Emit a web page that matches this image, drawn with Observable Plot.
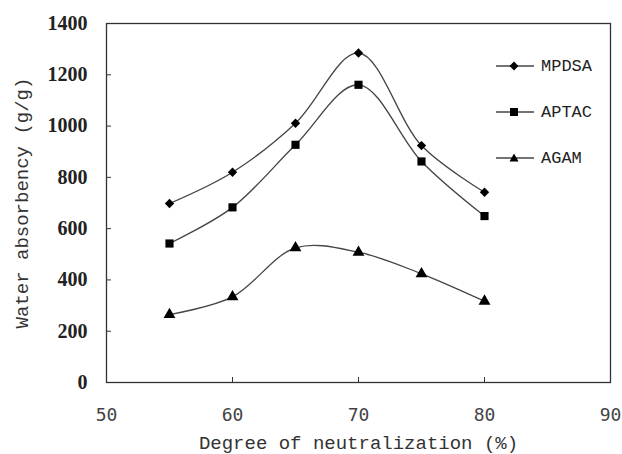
<!DOCTYPE html>
<html>
<head>
<meta charset="utf-8">
<script src="https://cdn.jsdelivr.net/npm/d3@7"></script>
<script src="https://cdn.jsdelivr.net/npm/@observablehq/plot@0.6"></script>
<style>
  html, body { margin: 0; padding: 0; background: #fff; }
  #wrap { position: relative; width: 622px; height: 454px; }
  #legend { position: absolute; left: 495px; top: 55px; font-family: "Liberation Mono", monospace; font-size: 17px; color: #222; }
  #legend .row { display: flex; align-items: center; height: 22px; margin-bottom: 24px; }
  #legend svg { margin-right: 6px; }
  #ytitle { position: absolute; left: 23px; top: 203px; transform: translate(-50%, -50%) rotate(-90deg);
    white-space: nowrap; font-family: "Liberation Mono", monospace; font-size: 19px; color: #333; }
</style>
</head>
<body>
<div id="wrap"></div>
<script>
const degree = [55, 60, 65, 70, 75, 80];
const series = ["MPDSA", "APTAC", "AGAM"];
const mpdsa = [698, 820, 1011, 1285, 924, 742];
const aptac = [542, 683, 927, 1161, 862, 649];
const agam = [265, 334, 525, 508, 424, 317];
const xTicks = [50, 60, 70, 80, 90];
const yTicks = [0, 200, 400, 600, 800, 1000, 1200, 1400];
const xTitle = "Degree of neutralization (%)";
const yTitle = "Water absorbency (g/g)";
const symbols = {MPDSA: "diamond2", APTAC: "square", AGAM: "triangle"};
const sizes = {MPDSA: 4.2, APTAC: 4.6, AGAM: 4.4};

const values = {MPDSA: mpdsa, APTAC: aptac, AGAM: agam};
const data = series.flatMap(s => degree.map((d, i) => ({series: s, x: d, y: values[s][i]})));

const chart = Plot.plot({
  width: 622,
  height: 454,
  marginLeft: 106,
  marginRight: 12,
  marginTop: 23,
  marginBottom: 72,
  x: {domain: [50, 90], axis: null},
  y: {domain: [0, 1400], axis: null},
  style: {background: "#fff"},
  marks: [
    Plot.frame({stroke: "#333", strokeWidth: 1.3}),
    Plot.axisY({ticks: yTicks, tickSize: -5, tickFormat: () => "", stroke: "#333", label: null}),
    Plot.axisX({ticks: xTicks, tickSize: -5, tickFormat: () => "", stroke: "#333", label: null}),
    Plot.text(yTicks, {y: d => d, text: d => String(d), frameAnchor: "left", textAnchor: "end", dx: -19,
      fontSize: 20, fontWeight: "bold", fontFamily: "Liberation Serif, serif", fill: "#222"}),
    Plot.text(xTicks, {x: d => d, text: d => String(d), frameAnchor: "bottom", dy: 38,
      fontSize: 18, fontFamily: "DejaVu Sans Mono, monospace", fill: "#444"}),
    Plot.text([xTitle], {frameAnchor: "bottom", dy: 66, fontSize: 19,
      fontFamily: "Liberation Mono, monospace", fill: "#333"}),
    Plot.line(data, {x: "x", y: "y", z: "series", curve: "catmull-rom", stroke: "#444", strokeWidth: 1.3}),
    ...series.map(s => Plot.dot(data.filter(d => d.series === s), {x: "x", y: "y", symbol: () => symbols[s], r: sizes[s], fill: "#000", stroke: "none"}))
  ]
});
const wrap = document.getElementById("wrap");
wrap.appendChild(chart);

const yt = document.createElement("div");
yt.id = "ytitle";
yt.textContent = yTitle;
wrap.appendChild(yt);

const legend = document.createElement("div");
legend.id = "legend";
const shapes = {
  MPDSA: '<path d="M19,-4.5 L23.5,0 L19,4.5 L14.5,0 Z" fill="#000"/>',
  APTAC: '<rect x="15" y="-4" width="8" height="8" fill="#000"/>',
  AGAM: '<path d="M19,-4.5 L23.5,3.5 L14.5,3.5 Z" fill="#000"/>'
};
for (const s of series) {
  const row = document.createElement("div");
  row.className = "row";
  row.innerHTML = `<svg width="40" height="12" viewBox="0 -6 40 12"><line x1="1" x2="39" y1="0" y2="0" stroke="#444" stroke-width="1.3"/>${shapes[s]}</svg><span>${s}</span>`;
  legend.appendChild(row);
}
wrap.appendChild(legend);
</script>
</body>
</html>
